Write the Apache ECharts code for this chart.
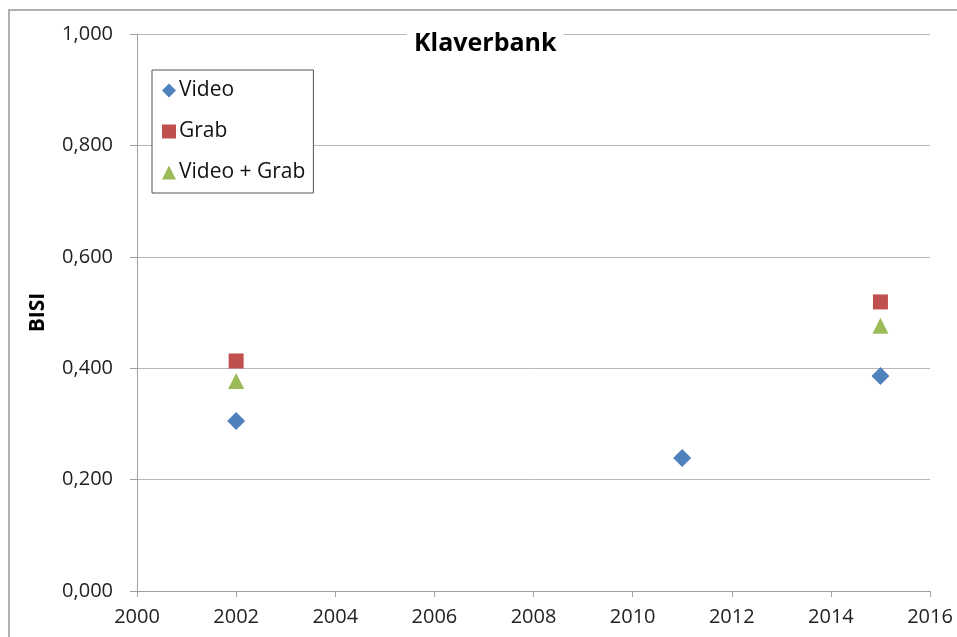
<!DOCTYPE html>
<html><head><meta charset="utf-8">
<script src="https://cdn.jsdelivr.net/npm/echarts@6/dist/echarts.min.js"></script>
<style>html,body{margin:0;padding:0;background:#fff}#c{width:957px;height:637px}</style>
</head><body><div id="c"></div>
<script>
const seriesNames = ['Video', 'Grab', 'Video + Grab'];
const videoData = [[2002, 0.305], [2011, 0.239], [2015, 0.386]];
const grabData = [[2002, 0.413], [2015, 0.519]];
const videoGrabData = [[2002, 0.377], [2015, 0.476]];
const xTicks = [2000, 2016, 2];
const yTicks = [0, 1, 0.2];

const font = "'Open Sans', 'Liberation Sans', sans-serif";
const chart = echarts.init(document.getElementById('c'));
chart.setOption({
  animation: false,
  backgroundColor: '#fff',
  graphic: [{
    type: 'rect', shape: {x: 9, y: 10, width: 1000, height: 700},
    style: {fill: 'none', stroke: '#b0b0b0', lineWidth: 2}, z: -1
  }],
  title: {
    text: 'Klaverbank', left: 407, top: 29,
    padding: [2, 7], backgroundColor: '#fff',
    textStyle: {fontFamily: font, fontWeight: 'bold', fontSize: 25, color: '#000'}
  },
  legend: {
    orient: 'vertical', left: 152, top: 70,
    backgroundColor: '#fff', borderColor: '#555', borderWidth: 1,
    padding: [10, 8, 10, 10], itemGap: 20, itemWidth: 14, itemHeight: 14, itemStyle: {opacity: 1},
    textStyle: {fontFamily: font, fontSize: 21, color: '#111', padding: [0, 0, 0, -2]},
    data: seriesNames
  },
  grid: {left: 137, right: 27, top: 34, bottom: 46},
  xAxis: {
    type: 'value', min: xTicks[0], max: xTicks[1], interval: xTicks[2],
    axisLine: {show: true, lineStyle: {color: '#a0a0a0'}},
    axisTick: {show: true, length: 6, lineStyle: {color: '#a0a0a0'}},
    splitLine: {show: false},
    axisLabel: {fontFamily: font, fontSize: 20, color: '#222', margin: 16,
      formatter: v => String(v)}
  },
  yAxis: {
    type: 'value', min: yTicks[0], max: yTicks[1], interval: yTicks[2],
    name: 'BISI', nameLocation: 'middle', nameGap: 88, nameRotate: 90,
    nameTextStyle: {fontFamily: font, fontSize: 21, fontWeight: 'bold', color: '#000'},
    axisLine: {show: true, lineStyle: {color: '#a0a0a0'}},
    axisTick: {show: true, inside: false, length: 7, lineStyle: {color: '#a0a0a0'}},
    splitLine: {show: true, lineStyle: {color: '#b8b8b8'}},
    axisLabel: {fontFamily: font, fontSize: 20, color: '#222', margin: 24,
      formatter: v => v.toFixed(3).replace('.', ',')}
  },
  series: [
    {name: seriesNames[0], type: 'scatter', symbol: 'diamond', symbolSize: 18,
     itemStyle: {color: '#4F81BD', opacity: 1}, data: videoData},
    {name: seriesNames[1], type: 'scatter', symbol: 'rect', symbolSize: 15,
     itemStyle: {color: '#C0504D', opacity: 1}, data: grabData},
    {name: seriesNames[2], type: 'scatter', symbol: 'triangle', symbolSize: 16,
     itemStyle: {color: '#9BBB59', opacity: 1}, data: videoGrabData}
  ]
});
</script></body></html>
